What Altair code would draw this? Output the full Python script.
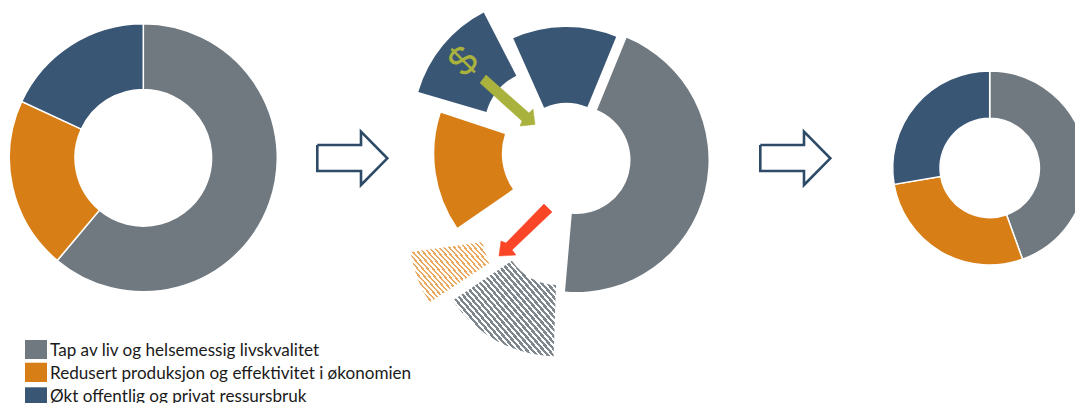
import altair as alt
import pandas as pd

# --- values ---
before_shares = [61.1, 20.8, 18.1]
after_shares = [44.5, 27.8, 27.7]
categories = ["Tap av liv og helsemessig livskvalitet",
              "Redusert produksjon og effektivitet i økonomien",
              "Økt offentlig og privat ressursbruk"]
GRAY, ORANGE, BLUE = "#717980", "#d87e16", "#3a5675"
colors = [GRAY, ORANGE, BLUE]
GREEN, RED, NAVY = "#a9b23c", "#fb4527", "#2d4a66"

# middle, exploded pieces: start and end angle (degrees clockwise from north)
mid_gray = (22.3, 185.0)
mid_blue_top = (336.0, 382.3)
mid_blue_out = (286.2, 332.7)
mid_orange = (235.4, 288.2)
hatch_gray = (182.0, 236.0)
hatch_orange = (236.7, 262.0)

W, H, M = 1067, 395, 8


def px(v):
    return v - M


xs = alt.Scale(domain=[0, W], range=[0, W])
ys = alt.Scale(domain=[0, H], range=[0, H])
ts = alt.Scale(domain=[0, 360], range=[0, 6.283185307])


def donut(shares, cx, cy, r0, r1):
    rows, a = [], 0.0
    for s, c in zip(shares, colors):
        b = a + s * 3.6
        rows.append(dict(cx=px(cx), cy=px(cy), a=a, b=b, r0=r0, r1=r1, c=c))
        a = b
    return rows


def piece(ang, cx, cy, r0, r1, c=None):
    return dict(cx=px(cx), cy=px(cy), a=ang[0], b=ang[1], r0=r0, r1=r1, c=c)


def arc_layer(rows, **mark):
    enc = dict(
        x=alt.X("cx:Q", scale=xs, axis=None),
        y=alt.Y("cy:Q", scale=ys, axis=None),
        theta=alt.Theta("a:Q", scale=ts),
        theta2=alt.Theta2("b:Q"),
        radius=alt.Radius("r1:Q", scale=None),
        radius2=alt.Radius2("r0:Q"),
    )
    if "fill" not in mark:
        enc["fill"] = alt.Fill("c:N", scale=None)
    return alt.Chart(pd.DataFrame(rows)).mark_arc(**mark).encode(**enc)


def hatch(color, w, h, period, ink, slope=1.0):
    r = h / (w * slope)
    k = (1 + r) / (1 + r * r)
    n = (1 + r) * w / period
    stops = []
    count = int(n) + 1
    for i in range(count):
        t0, t1, t2 = i / n, (i + ink) / n, (i + 1) / n
        if t0 > 1:
            break
        stops += [dict(offset=min(t0, 1), color=color), dict(offset=min(t1, 1), color=color),
                  dict(offset=min(t1, 1), color="#ffffff"), dict(offset=min(t2, 1), color="#ffffff")]
    return alt.LinearGradient(gradient="linear", stops=stops, x1=0, y1=1, x2=k, y2=1 - k * r)


def poly(points, **mark):
    df = pd.DataFrame([dict(x=px(p[0]), y=px(p[1]), i=i) for i, p in enumerate(points)])
    return alt.Chart(df).mark_line(**mark).encode(
        x=alt.X("x:Q", scale=xs, axis=None),
        y=alt.Y("y:Q", scale=ys, axis=None),
        order=alt.Order("i:Q"),
    )


left = arc_layer(donut(before_shares, 143.3, 157.8, 68.3, 134), stroke="white", strokeWidth=1.5)
right = arc_layer(donut(after_shares, 989.7, 168, 49.7, 97), stroke="white", strokeWidth=1.5)
middle = arc_layer([
    piece(mid_gray, 576.5, 160, 54, 132, GRAY),
    piece(mid_blue_top, 566.5, 158, 55, 131, BLUE),
    piece(mid_blue_out, 543.6, 128.5, 59.5, 130.5, BLUE),
    piece(mid_orange, 564.8, 153.6, 63, 130.5, ORANGE),
])
h_gray = arc_layer([piece(hatch_gray, 558, 229.6, 55.5, 127)],
                   fill=hatch("#7f878e", 104, 95, 5.6, 0.55, slope=1.15))
h_orange = arc_layer([piece(hatch_orange, 532, 235, 50, 122.5)],
                     fill=hatch("#eaa95f", 82, 60, 5.2, 0.42, slope=1.1))

hollow1 = poly([(317.3, 145), (361, 145), (361, 131.7), (387.3, 158.3), (361, 185), (361, 171), (317.3, 171), (317.3, 145)],
               stroke=NAVY, strokeWidth=2.6, fill="white", strokeJoin="miter")
hollow2 = poly([(760.3, 145), (804, 145), (804, 131.7), (830.3, 158.3), (804, 185), (804, 171), (760.3, 171), (760.3, 145)],
               stroke=NAVY, strokeWidth=2.6, fill="white", strokeJoin="miter")
green = poly([(486, 75), (529, 113), (533, 109), (535, 124.5), (520, 126), (522, 121), (480, 83), (486, 75)],
             stroke=GREEN, strokeWidth=0.5, fill=GREEN)
red = poly([(544, 204), (552, 212), (512, 250), (516, 255), (499, 256), (501, 241), (506, 243), (544, 204)],
           stroke=RED, strokeWidth=0.5, fill=RED)

dollar = alt.Chart(pd.DataFrame({"x": [px(464)], "y": [px(62)], "t": ["$"]})).mark_text(
    font="Liberation Sans", fontSize=41, angle=315, color=GREEN, align="center", baseline="middle"
).encode(x=alt.X("x:Q", scale=xs, axis=None), y=alt.Y("y:Q", scale=ys, axis=None), text="t:N")

tops, bottoms = [340, 362.7, 387.3], [359, 382, 410]
centers = [351, 373.5, 397]
leg = pd.DataFrame({
    "x": [px(25)] * 3, "x2": [px(47)] * 3,
    "y": [px(v) for v in tops], "y2": [px(v) for v in bottoms],
    "tx": [px(50)] * 3, "ty": [px(v) for v in centers],
    "t": categories, "c": colors,
})
legend_boxes = alt.Chart(leg).mark_rect().encode(
    x=alt.X("x:Q", scale=xs, axis=None), x2="x2:Q",
    y=alt.Y("y:Q", scale=ys, axis=None), y2="y2:Q",
    fill=alt.Fill("c:N", scale=None),
)
legend_text = alt.Chart(leg).mark_text(
    font="Lato", fontSize=17.1, align="left", baseline="middle", color="#1a1a1a"
).encode(x=alt.X("tx:Q", scale=xs, axis=None), y=alt.Y("ty:Q", scale=ys, axis=None), text="t:N")

chart = alt.layer(
    left, middle, right, h_gray, h_orange, hollow1, hollow2, green, red, dollar, legend_boxes, legend_text
).properties(
    width=W, height=H, padding=0, background="white",
    autosize=alt.AutoSizeParams(type="none"),
).configure_view(stroke=None)

chart.save("out.html", embed_options={"renderer": "svg", "actions": False})
